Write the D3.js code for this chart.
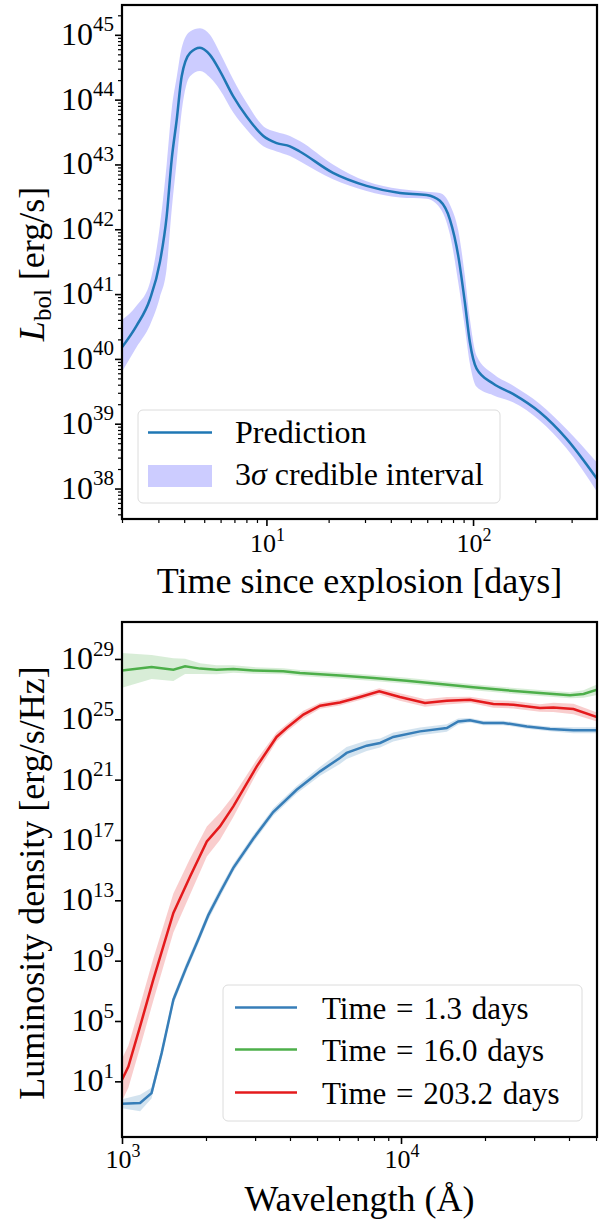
<!DOCTYPE html>
<html><head><meta charset="utf-8">
<script src="https://cdn.jsdelivr.net/npm/d3@7"></script>
<style>
body{margin:0;background:#fff}
svg{display:block}
text{font-family:"Liberation Serif","DejaVu Serif",serif;fill:#000}
</style>
</head><body>
<svg id="c" width="603" height="1226"></svg>
<script>
// ---------- Top panel data (bolometric light curve) ----------
const tDays = [2.0, 2.35, 2.73, 3.05, 3.29, 3.48, 3.68, 3.89, 4.27, 4.77, 5.33, 5.96, 6.91, 8.02, 9.66, 11.2, 13.0, 14.5, 21.0, 30.5, 44.3, 59.6, 69.1, 77.3, 84.8, 91.3, 96.5, 104, 125, 156, 210, 283, 398];
const logLbol   = [40.18, 40.51, 40.92, 41.49, 42.20, 43.08, 43.69, 44.36, 44.72, 44.80, 44.69, 44.44, 44.05, 43.74, 43.44, 43.33, 43.28, 43.20, 42.87, 42.67, 42.56, 42.53, 42.44, 42.15, 41.59, 40.87, 40.26, 39.85, 39.62, 39.46, 39.18, 38.77, 38.15];
const logLbolHi = [40.60, 40.82, 41.18, 42.05, 43.00, 43.85, 44.35, 44.80, 45.05, 45.10, 45.00, 44.72, 44.31, 43.95, 43.59, 43.50, 43.44, 43.36, 43.00, 42.74, 42.62, 42.58, 42.56, 42.38, 41.98, 41.28, 40.62, 40.05, 39.77, 39.59, 39.31, 38.92, 38.40];
const logLbolLo = [39.80, 40.18, 40.52, 40.95, 41.40, 42.30, 43.05, 43.82, 44.36, 44.44, 44.34, 44.15, 43.80, 43.54, 43.28, 43.20, 43.13, 43.05, 42.77, 42.59, 42.49, 42.47, 42.33, 41.92, 41.18, 40.48, 39.93, 39.57, 39.44, 39.33, 39.05, 38.62, 37.95];
const topXTicks = [10, 100];
const topYTickExps = [38, 39, 40, 41, 42, 43, 44, 45];
const topLegend = ["Prediction", "credible interval"];

// ---------- Bottom panel data (spectra) ----------
const seriesNames = ["Time = 1.3 days", "Time = 16.0 days", "Time = 203.2 days"];
const seriesColors = ["#377eb8", "#4daf4a", "#e41a1c"];
const wlBlue = [1000, 1161, 1276, 1387, 1528, 1706, 1875, 2037, 2244, 2506, 2958, 3483, 4227, 5129, 6039, 6383, 7534, 8414, 9376, 11695, 14588, 16032, 17660, 19724, 23281, 28249, 34198, 41495, 50400];
const logFBlue = [-0.49, -0.44, 0.22, 2.87, 6.41, 8.62, 10.39, 12.00, 13.50, 15.15, 17.10, 18.85, 20.33, 21.55, 22.44, 22.77, 23.25, 23.43, 23.83, 24.20, 24.42, 24.86, 24.93, 24.76, 24.76, 24.53, 24.36, 24.27, 24.27];
const errBlue  = [0.3, 0.55, 0.35, 0.3, 0.3, 0.3, 0.3, 0.3, 0.3, 0.25, 0.25, 0.25, 0.25, 0.3, 0.4, 0.4, 0.35, 0.3, 0.3, 0.25, 0.25, 0.2, 0.15, 0.15, 0.15, 0.15, 0.15, 0.2, 0.2];
const wlGreen = [1000, 1276, 1528, 1683, 1905, 2183, 2506, 2958, 3784, 4345, 6039, 7962, 10471, 13804, 18155, 23933, 31477, 40365, 45082, 50400];
const logFGreen = [28.24, 28.47, 28.29, 28.51, 28.36, 28.29, 28.34, 28.24, 28.18, 28.07, 27.91, 27.74, 27.56, 27.34, 27.12, 26.92, 26.75, 26.59, 26.68, 26.96];
const errGreen  = [1.15, 0.8, 0.75, 0.5, 0.35, 0.3, 0.25, 0.22, 0.2, 0.2, 0.2, 0.2, 0.2, 0.2, 0.2, 0.2, 0.2, 0.2, 0.25, 0.35];
const wlRed = [1000, 1054, 1161, 1294, 1528, 1754, 2014, 2244, 2506, 3041, 3581, 3890, 4467, 5129, 6039, 7129, 8356, 9908, 12190, 14588, 17660, 21429, 25293, 31477, 35156, 41495, 50400];
const logFRed = [1.10, 1.98, 4.64, 7.73, 12.16, 14.58, 16.90, 17.90, 19.23, 21.88, 23.83, 24.42, 25.31, 25.90, 26.12, 26.48, 26.85, 26.48, 26.08, 26.23, 26.30, 26.02, 25.97, 25.75, 25.79, 25.68, 25.15];
const errRed  = [1.4, 1.4, 1.4, 1.4, 1.3, 1.2, 1.0, 0.9, 0.7, 0.45, 0.3, 0.25, 0.25, 0.2, 0.2, 0.2, 0.2, 0.25, 0.25, 0.25, 0.2, 0.25, 0.25, 0.25, 0.3, 0.35, 0.3];
const botXTicks = [1000, 10000];
const botYTickExps = [1, 5, 9, 13, 17, 21, 25, 29];

// ---------- Setup ----------
const svg = d3.select("#c");
const T = {x0: 122, x1: 597, y0: 5, y1: 519};
const B = {x0: 122, x1: 597, y0: 622, y1: 1137};

const xT = d3.scaleLog().domain([2, 398]).range([T.x0, T.x1]);
const yT = d3.scaleLog().domain([Math.pow(10, 37.53), Math.pow(10, 45.46)]).range([T.y1, T.y0]);
const xB = d3.scaleLog().domain([1000, 50400]).range([B.x0, B.x1]);
const yB = d3.scaleLog().domain([Math.pow(10, -2.69), Math.pow(10, 31.45)]).range([B.y1, B.y0]);

function minorTicks(scale) {
  const [a, b] = scale.domain();
  const out = [];
  for (let e = Math.floor(Math.log10(a)); e <= Math.ceil(Math.log10(b)); e++) {
    for (let k = 2; k <= 9; k++) {
      const v = k * Math.pow(10, e);
      if (v >= a && v <= b) out.push(v);
    }
  }
  return out;
}

function powLabel(g, x, y, exp, base, sup, anchor) {
  const t = g.append("text").attr("x", x).attr("y", y).attr("text-anchor", anchor).style("font-size", base + "px");
  t.append("tspan").text("10");
  t.append("tspan").attr("dy", -base * 0.42).style("font-size", sup + "px").text(exp);
}

function styleAxis(g, w) {
  g.select(".domain").remove();
  g.selectAll(".tick line").attr("stroke", "#000").attr("stroke-width", w);
  g.selectAll(".tick text").remove();
}

function frame(box, xs, ys, xMajor, yMajorExps, yMinor, xLabY, yLabBase, yLabSup, xLabBase, xLabSup) {
  const g = svg.append("g");
  const gx = g.append("g").attr("transform", `translate(0,${box.y1})`)
    .call(d3.axisBottom(xs).tickValues(xMajor).tickSize(7).tickFormat(""));
  styleAxis(gx, 1.6);
  const gxm = g.append("g").attr("transform", `translate(0,${box.y1})`)
    .call(d3.axisBottom(xs).tickValues(minorTicks(xs)).tickSize(4).tickFormat(""));
  styleAxis(gxm, 1.2);
  const gy = g.append("g").attr("transform", `translate(${box.x0},0)`)
    .call(d3.axisLeft(ys).tickValues(yMajorExps.map(e => Math.pow(10, e))).tickSize(7).tickFormat(""));
  styleAxis(gy, 1.6);
  if (yMinor) {
    const gym = g.append("g").attr("transform", `translate(${box.x0},0)`)
      .call(d3.axisLeft(ys).tickValues(minorTicks(ys)).tickSize(4).tickFormat(""));
    styleAxis(gym, 1.2);
  }
  xMajor.forEach(v => powLabel(g, xs(v) + 1, xLabY, String(Math.round(Math.log10(v))), xLabBase, xLabSup, "middle"));
  yMajorExps.forEach(e => powLabel(g, box.x0 - 8, ys(Math.pow(10, e)) + 10, String(e), yLabBase, yLabSup, "end"));
  return g;
}

const defs = svg.append("defs");
defs.append("clipPath").attr("id", "clipT").append("rect")
  .attr("x", T.x0).attr("y", T.y0).attr("width", T.x1 - T.x0).attr("height", T.y1 - T.y0);
defs.append("clipPath").attr("id", "clipB").append("rect")
  .attr("x", B.x0).attr("y", B.y0).attr("width", B.x1 - B.x0).attr("height", B.y1 - B.y0);

// ---------- Top panel ----------
const topRows = tDays.map((t, i) => ({t, m: logLbol[i], hi: logLbolHi[i], lo: logLbolLo[i]}));
const gT = svg.append("g").attr("clip-path", "url(#clipT)");
gT.append("path").datum(topRows)
  .attr("fill", "#0000ff").attr("fill-opacity", 0.2)
  .attr("d", d3.area().curve(d3.curveMonotoneX)
    .x(d => xT(d.t)).y0(d => yT(Math.pow(10, d.lo))).y1(d => yT(Math.pow(10, d.hi))));
gT.append("path").datum(topRows)
  .attr("fill", "none").attr("stroke", "#1f77b4").attr("stroke-width", 2.5)
  .attr("d", d3.line().curve(d3.curveMonotoneX).x(d => xT(d.t)).y(d => yT(Math.pow(10, d.m))));

frame(T, xT, yT, topXTicks, topYTickExps, true, 552, 32, 21, 26, 18);
svg.append("rect").attr("x", T.x0).attr("y", T.y0).attr("width", T.x1 - T.x0).attr("height", T.y1 - T.y0)
  .attr("fill", "none").attr("stroke", "#000").attr("stroke-width", 2.2);

const lgT = svg.append("g");
lgT.append("rect").attr("x", 138).attr("y", 410).attr("width", 362).attr("height", 93).attr("rx", 5)
  .attr("fill", "#fff").attr("fill-opacity", 0.8).attr("stroke", "#dcdcdc").attr("stroke-width", 1);
lgT.append("line").attr("x1", 148).attr("x2", 212).attr("y1", 432.5).attr("y2", 432.5)
  .attr("stroke", "#1f77b4").attr("stroke-width", 2.5);
lgT.append("rect").attr("x", 148).attr("y", 465).attr("width", 64).attr("height", 22)
  .attr("fill", "#0000ff").attr("fill-opacity", 0.2);
lgT.append("text").attr("x", 235).attr("y", 443).style("font-size", "32px").text(topLegend[0]);
const t2 = lgT.append("text").attr("x", 235).attr("y", 485).style("font-size", "32px");
t2.append("tspan").text("3");
t2.append("tspan").style("font-style", "italic").text("σ");
t2.append("tspan").text(" " + topLegend[1]);

svg.append("text").attr("x", 359.5).attr("y", 593).attr("text-anchor", "middle").style("font-size", "36px")
  .text("Time since explosion [days]");
const yl = svg.append("text").attr("transform", "translate(44,264) rotate(-90)").attr("text-anchor", "middle").style("font-size", "36px");
yl.append("tspan").style("font-style", "italic").text("L");
yl.append("tspan").attr("dy", 7).style("font-size", "25px").text("bol");
yl.append("tspan").attr("dy", -7).text(" [erg/s]");

// ---------- Bottom panel ----------
const spectra = [
  {wl: wlBlue, f: logFBlue, e: errBlue},
  {wl: wlGreen, f: logFGreen, e: errGreen},
  {wl: wlRed, f: logFRed, e: errRed}
];
const gB = svg.append("g").attr("clip-path", "url(#clipB)");
spectra.forEach((s, k) => {
  const rows = s.wl.map((w, i) => ({w, f: s.f[i], e: s.e[i]}));
  gB.append("path").datum(rows)
    .attr("fill", seriesColors[k]).attr("fill-opacity", 0.22)
    .attr("d", d3.area().x(d => xB(d.w)).y0(d => yB(Math.pow(10, d.f - d.e))).y1(d => yB(Math.pow(10, d.f + d.e))));
});
spectra.forEach((s, k) => {
  const rows = s.wl.map((w, i) => ({w, f: s.f[i]}));
  gB.append("path").datum(rows)
    .attr("fill", "none").attr("stroke", seriesColors[k]).attr("stroke-width", 2.5)
    .attr("d", d3.line().x(d => xB(d.w)).y(d => yB(Math.pow(10, d.f))));
});

frame(B, xB, yB, botXTicks, botYTickExps, false, 1168, 32, 21, 26, 18);
svg.append("rect").attr("x", B.x0).attr("y", B.y0).attr("width", B.x1 - B.x0).attr("height", B.y1 - B.y0)
  .attr("fill", "none").attr("stroke", "#000").attr("stroke-width", 2.2);

const lgB = svg.append("g");
lgB.append("rect").attr("x", 223).attr("y", 985).attr("width", 359).attr("height", 136).attr("rx", 5)
  .attr("fill", "#fff").attr("fill-opacity", 0.8).attr("stroke", "#dcdcdc").attr("stroke-width", 1);
const legY = [1007.5, 1049.5, 1092.5];
seriesNames.forEach((n, k) => {
  lgB.append("line").attr("x1", 235).attr("x2", 297).attr("y1", legY[k]).attr("y2", legY[k])
    .attr("stroke", seriesColors[k]).attr("stroke-width", 2.5);
  lgB.append("text").attr("x", 322).attr("y", legY[k] + 11).style("font-size", "31px").style("word-spacing", "2px").text(n);
});

svg.append("text").attr("x", 359.5).attr("y", 1211).attr("text-anchor", "middle").style("font-size", "36px")
  .text("Wavelength (Å)");
svg.append("text").attr("transform", "translate(44,883) rotate(-90)").attr("text-anchor", "middle").style("font-size", "36px")
  .text("Luminosity density [erg/s/Hz]");
</script>
</body></html>
